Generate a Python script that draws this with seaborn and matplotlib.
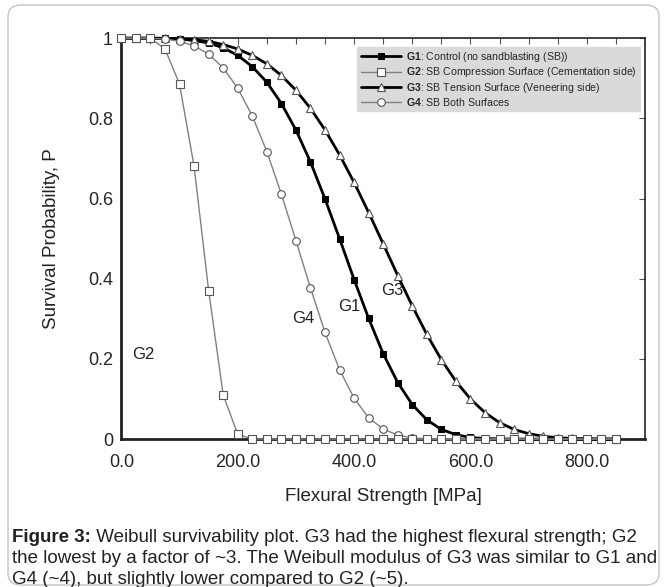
import matplotlib
matplotlib.use("Agg")
import matplotlib.pyplot as plt
import seaborn as sns
from matplotlib.patches import FancyBboxPatch

# Weibull survival data (x every 25 MPa)
strength = [0, 25, 50, 75, 100, 125, 150, 175, 200, 225, 250, 275, 300, 325, 350,
            375, 400, 425, 450, 475, 500, 525, 550, 575, 600, 625, 650, 675, 700,
            725, 750, 775, 800, 825, 850]
g1 = [1.0, 1.0, 0.9999, 0.9994, 0.998, 0.994, 0.988, 0.976, 0.957, 0.929, 0.890,
      0.837, 0.771, 0.691, 0.599, 0.500, 0.398, 0.301, 0.213, 0.141, 0.086, 0.048,
      0.024, 0.011, 0.004, 0.0015, 0.0004, 0.0001, 0, 0, 0, 0, 0, 0, 0]
g2 = [1.0, 1.0, 1.0, 0.973, 0.885, 0.68, 0.37, 0.11, 0.012, 0.0003, 0, 0, 0, 0, 0,
      0, 0, 0, 0, 0, 0, 0, 0, 0, 0, 0, 0, 0, 0, 0, 0, 0, 0, 0, 0]
g3 = [1.0, 1.0, 0.9999, 0.9995, 0.998, 0.996, 0.992, 0.984, 0.973, 0.957, 0.936,
      0.907, 0.870, 0.825, 0.771, 0.709, 0.640, 0.565, 0.487, 0.408, 0.332, 0.261,
      0.198, 0.144, 0.100, 0.066, 0.041, 0.024, 0.0135, 0.007, 0.0034, 0.0015,
      0.0006, 0.0002, 0.0001]
g4 = [1.0, 1.0, 0.9995, 0.998, 0.992, 0.981, 0.960, 0.926, 0.875, 0.806, 0.717,
      0.611, 0.495, 0.377, 0.266, 0.173, 0.102, 0.053, 0.025, 0.010, 0.003, 0.001,
      0.0002, 0, 0, 0, 0, 0, 0, 0, 0, 0, 0, 0, 0]

legend_labels = [r"$\bf{G1}$: Control (no sandblasting (SB))",
                 r"$\bf{G2}$: SB Compression Surface (Cementation side)",
                 r"$\bf{G3}$: SB Tension Surface (Veneering side)",
                 r"$\bf{G4}$: SB Both Surfaces"]
x_ticks = [0, 200, 400, 600, 800]
x_ticklabels = ["0.0", "200.0", "400.0", "600.0", "800.0"]
y_ticks = [0, 0.2, 0.4, 0.6, 0.8, 1.0]
y_ticklabels = ["0", "0.2", "0.4", "0.6", "0.8", "1"]

sns.set_style("white")
plt.rcParams["font.family"] = ["Liberation Sans", "DejaVu Sans"]
plt.rcParams["mathtext.fontset"] = "custom"
plt.rcParams["mathtext.rm"] = "Liberation Sans"
plt.rcParams["mathtext.bf"] = "Liberation Sans:bold"

fig = plt.figure(figsize=(6.67, 5.87), dpi=100)

# rounded frame around figure + caption
frame = FancyBboxPatch((8 / 667, 2 / 587), 651 / 667, 580 / 587,
                       boxstyle="round,pad=0,rounding_size=0.02",
                       transform=fig.transFigure, fc="none", ec="#c4c4c4", lw=1.0,
                       zorder=-1)
fig.patches.append(frame)

ax = fig.add_axes([0.182, 0.252, 0.785, 0.683])

gray = "#808080"
sns.lineplot(x=strength, y=g1, ax=ax, color="black", lw=2.0, marker="s", ms=4.5,
             mfc="black", mec="black", label=legend_labels[0], clip_on=False, zorder=3)
sns.lineplot(x=strength, y=g3, ax=ax, color="black", lw=2.0, marker="^", ms=6,
             mfc="white", mec="#555555", mew=0.8, label=legend_labels[2], clip_on=False, zorder=3)
sns.lineplot(x=strength, y=g4, ax=ax, color=gray, lw=1.0, marker="o", ms=5.5,
             mfc="white", mec="#555555", mew=0.8, label=legend_labels[3], clip_on=False, zorder=4)
sns.lineplot(x=strength, y=g2, ax=ax, color=gray, lw=1.0, marker="s", ms=5.5,
             mfc="white", mec="#555555", mew=0.8, label=legend_labels[1], clip_on=False, zorder=5)

ax.set_xlim(0, 900)
ax.set_ylim(0, 1)
ax.set_xticks(x_ticks)
ax.set_xticklabels(x_ticklabels)
ax.set_xticks(range(0, 900, 50), minor=True)
ax.set_yticks(y_ticks)
ax.set_yticklabels(y_ticklabels)
ax.tick_params(which="both", direction="in", top=True, right=True, length=4,
               width=0.8, color="#555555")
ax.tick_params(axis="x", labelsize=13, pad=11)
ax.tick_params(axis="y", labelsize=13, pad=6)
for s in ax.spines.values():
    s.set_linewidth(1.2)
    s.set_color("#222222")
ax.spines["left"].set_linewidth(2.0)
ax.spines["bottom"].set_linewidth(2.0)

ax.set_xlabel("Flexural Strength [MPa]", fontsize=13.5, labelpad=12, color="#222222")
ax.set_ylabel("Survival Probability, P", fontsize=13.5, labelpad=20, color="#222222")

# curve labels
for name, (xx, yy) in {"G2": (37, 0.21), "G4": (313, 0.30),
                       "G1": (391, 0.33), "G3": (465, 0.37)}.items():
    ax.text(xx, yy, name, fontsize=12, ha="center", va="center", color="#222222")

handles, labels = ax.get_legend_handles_labels()
order = [labels.index(l) for l in legend_labels]
leg = ax.legend([handles[i] for i in order], [labels[i] for i in order],
                loc="upper right", bbox_to_anchor=(0.99, 0.978), borderaxespad=0,
                fontsize=7.6, handlelength=3.8, handletextpad=0.5, labelspacing=0.12,
                borderpad=0.3, frameon=True, fancybox=False, framealpha=1)
leg.get_frame().set_facecolor("#dadada")
leg.get_frame().set_edgecolor("#dadada")

# caption: bold lead-in followed by regular text
cap_size = 13.5
lead = fig.text(12 / 667, 1 - 537 / 587, "Figure 3:", fontsize=cap_size,
                fontweight="bold", ha="left", va="center", color="#222222")
ax.annotate(" Weibull survivability plot. G3 had the highest flexural strength; G2",
            xy=(1, 0.5), xycoords=lead, ha="left", va="center", fontsize=cap_size,
            color="#222222", annotation_clip=False)
caption_rest = ["the lowest by a factor of ~3. The Weibull modulus of G3 was similar to G1 and",
                "G4 (~4), but slightly lower compared to G2 (~5)."]
for i, line in enumerate(caption_rest):
    fig.text(12 / 667, 1 - (558.5 + 21.5 * i) / 587, line, fontsize=cap_size,
             ha="left", va="center", color="#222222")

fig.savefig("out.png", dpi=100)
